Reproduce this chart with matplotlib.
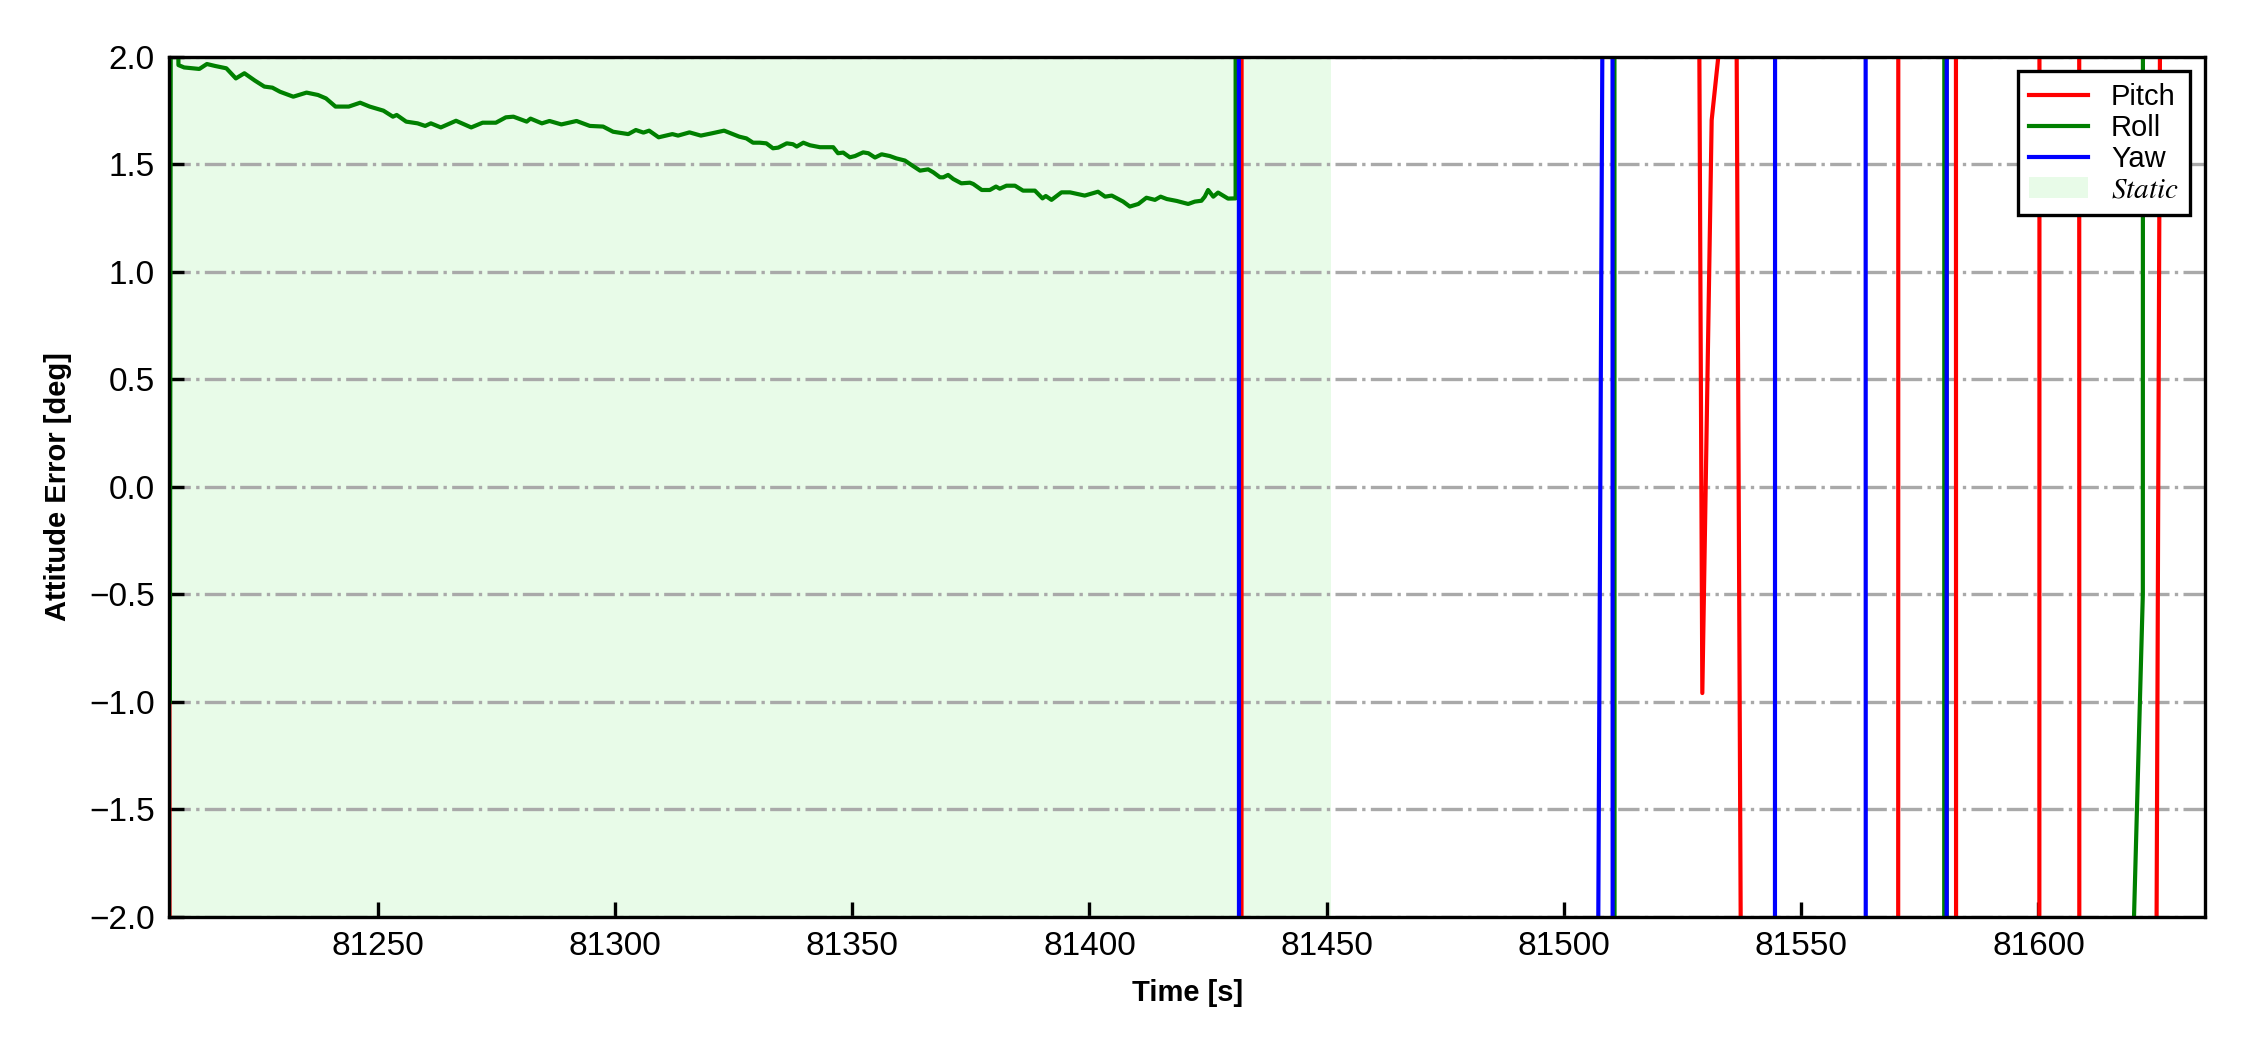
import matplotlib
matplotlib.use('Agg')
import matplotlib.pyplot as plt

plt.rcParams['font.family'] = ['Liberation Sans', 'DejaVu Sans']
plt.rcParams['mathtext.fontset'] = 'stix'

# ---- data (values outside +-2 deg are estimates) ----
pitch_t = [81206.1, 81206.5, 81431.9, 81432.2, 81528.0, 81528.2, 81529.16, 81531.13,
           81533.1, 81535.0, 81536.0, 81537.6, 81538.0, 81570.3, 81570.6, 81582.45,
           81582.8, 81600.05, 81600.35, 81608.45, 81608.75, 81624.6, 81625.9, 81626.2,
           81635.1]
pitch_v = [-1.0, -30, -30, 30, 30, 3.6, -0.96, 1.705,
           2.12, 30, 3.9, -3.7, -30, -30, 30, 30,
           -30, -30, 30, 30, -30, -3.7, 3.7, 30,
           30]

roll_t = [81206.2, 81206.6, 81208.0, 81209.2, 81212.4, 81214.0, 81215.7, 81218.1,
          81220.1, 81221.9, 81224.1, 81226.1, 81227.8, 81229.4, 81232.2, 81235.0,
          81237.4, 81239.1, 81241.1, 81243.9, 81246.3, 81248.3, 81251.2, 81253.2,
          81254.0, 81256.0, 81258.4, 81260.0, 81261.2, 81263.3, 81266.5, 81269.7,
          81272.1, 81274.9, 81277.0, 81278.6, 81281.4, 81282.2, 81284.6, 81286.2,
          81288.7, 81291.9, 81294.7, 81297.5, 81299.6, 81302.8, 81304.4, 81306.0,
          81307.2, 81309.2, 81312.1, 81313.3, 81315.7, 81318.1, 81320.5, 81323.0,
          81326.2, 81327.7, 81329.1, 81330.5, 81331.9, 81333.3, 81334.4, 81336.2,
          81337.5, 81338.3, 81339.7, 81341.1, 81343.2, 81346.0, 81347.0, 81348.1,
          81349.5, 81350.6, 81352.3, 81353.4, 81354.8, 81356.2, 81357.9, 81359.3,
          81361.1, 81362.5, 81364.3, 81366.0, 81367.1, 81368.5, 81369.2, 81370.2,
          81371.3, 81373.0, 81374.8, 81375.5, 81377.3, 81379.0, 81380.3, 81381.1,
          81382.5, 81384.3, 81386.0, 81388.5, 81390.1, 81390.8, 81392.0, 81394.1,
          81395.9, 81399.0, 81401.8, 81403.3, 81404.7, 81406.4, 81407.1, 81408.5,
          81410.3, 81412.0, 81413.8, 81415.0, 81416.3, 81418.4, 81420.8, 81422.2,
          81423.6, 81424.3, 81425.0, 81426.1, 81427.1, 81429.2, 81430.8, 81430.9,
          81510.5, 81510.8, 81580.0, 81580.3, 81580.5, 81580.8, 81618.9, 81622.0,
          81622.2, 81635.1]
roll_v = [-1.0, 6.0, 1.961, 1.950, 1.943, 1.966, 1.957, 1.946,
          1.899, 1.923, 1.889, 1.861, 1.856, 1.837, 1.814, 1.833,
          1.822, 1.806, 1.768, 1.768, 1.786, 1.768, 1.749, 1.721,
          1.729, 1.698, 1.690, 1.678, 1.690, 1.671, 1.702, 1.671,
          1.693, 1.693, 1.718, 1.721, 1.698, 1.712, 1.690, 1.701,
          1.685, 1.701, 1.678, 1.675, 1.651, 1.640, 1.659, 1.647,
          1.656, 1.625, 1.640, 1.633, 1.648, 1.633, 1.644, 1.656,
          1.628, 1.620, 1.600, 1.600, 1.597, 1.574, 1.577, 1.597,
          1.593, 1.582, 1.600, 1.588, 1.579, 1.579, 1.551, 1.554,
          1.532, 1.538, 1.555, 1.551, 1.531, 1.546, 1.538, 1.527,
          1.517, 1.496, 1.470, 1.476, 1.462, 1.439, 1.439, 1.450,
          1.431, 1.411, 1.414, 1.408, 1.380, 1.380, 1.396, 1.386,
          1.400, 1.400, 1.377, 1.377, 1.341, 1.352, 1.334, 1.369,
          1.369, 1.354, 1.372, 1.349, 1.354, 1.334, 1.326, 1.303,
          1.315, 1.344, 1.334, 1.349, 1.338, 1.329, 1.315, 1.326,
          1.330, 1.349, 1.380, 1.349, 1.368, 1.340, 1.341, 30,
          30, -30, -30, 30, 30, -30, -3.0, -0.5,
          30, 30]

yaw_t = [81206.1, 81431.35, 81431.65, 81506.5, 81506.9, 81508.4, 81508.8, 81510.1,
         81510.4, 81544.33, 81544.63, 81563.44, 81563.74, 81580.51, 81580.81, 81635.1]
yaw_v = [30, 30, -30, -30, -3.6, 3.5, 30, 30,
         -30, -30, 30, 30, -30, -30, 30, 30]

static_start = 81206.1
static_end = 81451.0
y_ticks = [-2.0, -1.5, -1.0, -0.5, 0.0, 0.5, 1.0, 1.5, 2.0]

fig = plt.figure(figsize=(7.5, 3.5), dpi=300)
ax = fig.add_axes([0.0753, 0.127, 0.9047, 0.819])

ax.plot(pitch_t, pitch_v, color='red', lw=1.0, label='Pitch')
ax.plot(roll_t, roll_v, color='green', lw=1.0, label='Roll')
ax.plot(yaw_t, yaw_v, color='blue', lw=1.0, label='Yaw')
ax.axvspan(static_start, static_end, color='lightgreen', alpha=0.2, lw=0, label=r'$Static$')

ax.set_xlim(pitch_t[0], pitch_t[-1])
ax.set_ylim(-2, 2)
ax.set_yticks(y_ticks)
ax.ticklabel_format(axis='x', useOffset=False)
ax.tick_params(direction='in', labelsize=8, top=False, right=False)
ax.yaxis.grid(True, linestyle='-.', color='darkgray', linewidth=0.8)

ax.set_xlabel('Time [s]', fontsize=7, fontweight='bold')
ax.set_ylabel('Attitude Error [deg]', fontsize=7, fontweight='bold')

leg = ax.legend(loc='upper right', fontsize=7, fancybox=False, edgecolor='black',
                framealpha=1, labelspacing=0.1, borderpad=0.4)
leg.get_frame().set_linewidth(0.8)

fig.savefig('out.png', dpi=300)
